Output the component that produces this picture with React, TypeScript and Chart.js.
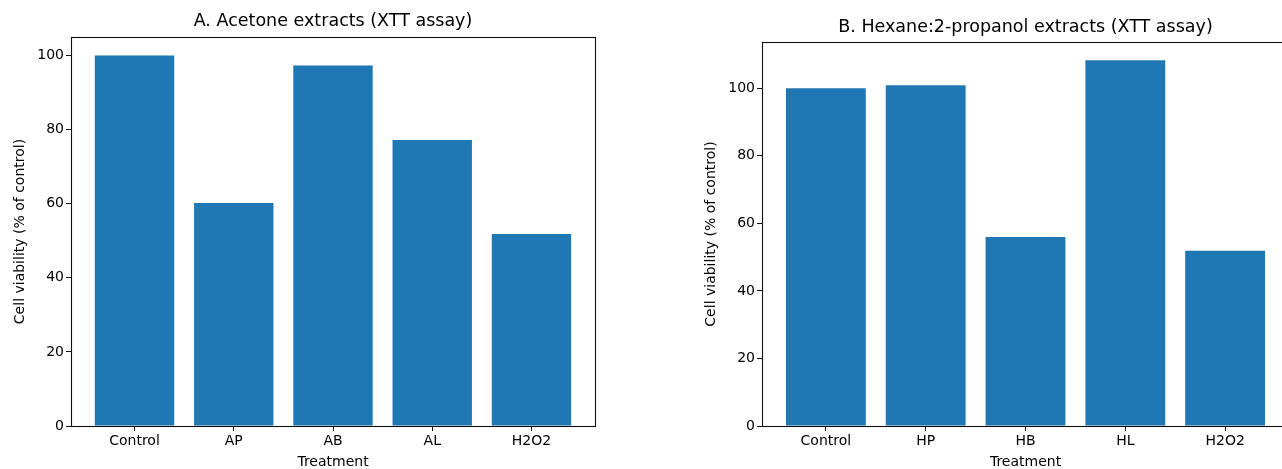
import React, { useEffect, useRef } from "react";
import { Chart, registerables } from "chart.js";

Chart.register(...registerables);

const titleA = "A. Acetone extracts (XTT assay)";
const categoriesA = ["Control", "AP", "AB", "AL", "H2O2"];
const viabilityA = [100, 60.2, 97.3, 77.2, 51.8];

const titleB = "B. Hexane:2-propanol extracts (XTT assay)";
const categoriesB = ["Control", "HP", "HB", "HL", "H2O2"];
const viabilityB = [100, 100.9, 56.0, 108.3, 51.9];

const yTickValues = [0, 20, 40, 60, 80, 100];
const xAxisLabel = "Treatment";
const yAxisLabel = "Cell viability (% of control)";

const FONT = "'DejaVu Sans', sans-serif";
const BAR_COLOR = "#1f77b4";

const frame = {
  id: "frame",
  afterDatasetsDraw(chart: any) {
    const { ctx, chartArea } = chart;
    ctx.save();
    ctx.strokeStyle = "#111";
    ctx.lineWidth = 1.1;
    ctx.strokeRect(
      Math.round(chartArea.left) + 0.5,
      Math.round(chartArea.top) + 0.5,
      Math.round(chartArea.right - chartArea.left),
      Math.round(chartArea.bottom - chartArea.top)
    );
    ctx.restore();
  },
};

function makeConfig(
  title: string,
  cats: string[],
  vals: number[],
  padLeft: number,
  padRight: number,
  titleTop: number,
  titleBottom: number
): any {
  const n = cats.length;
  return {
    type: "bar",
    data: {
      datasets: [
        {
          data: vals.map((v, i) => ({ x: i, y: v })),
          backgroundColor: BAR_COLOR,
          borderWidth: 0,
          barPercentage: 1.0,
          categoryPercentage: 0.8,
        },
      ],
    },
    options: {
      animation: false,
      responsive: false,
      maintainAspectRatio: false,
      layout: { padding: { left: padLeft, right: padRight, top: 0, bottom: 9 } },
      plugins: {
        legend: { display: false },
        tooltip: { enabled: false },
        title: {
          display: true,
          text: title,
          fullSize: false,
          color: "#000",
          font: { family: FONT, size: 17.5, weight: "normal" },
          padding: { top: titleTop, bottom: titleBottom },
        },
      },
      scales: {
        x: {
          type: "linear",
          min: -0.64,
          max: n - 1 + 0.64,
          offset: false,
          border: { display: false },
          grid: {
            offset: false,
            drawOnChartArea: false,
            drawTicks: true,
            tickLength: 5,
            tickColor: "#111",
            lineWidth: 1,
          },
          afterBuildTicks: (s: any) => {
            s.ticks = cats.map((_, i) => ({ value: i }));
          },
          ticks: {
            autoSkip: false,
            maxRotation: 0,
            padding: 2,
            color: "#000",
            font: { family: FONT, size: 14 },
            callback: (v: number) =>
              Number.isInteger(v) && v >= 0 && v < n ? cats[v] : "",
          },
          title: {
            display: true,
            text: xAxisLabel,
            color: "#000",
            font: { family: FONT, size: 14 },
            padding: { top: 0, bottom: 0 },
          },
          afterFit: (s: any) => {
            s.height = 45;
          },
        },
        y: {
          min: 0,
          max: Math.max(...vals) * 1.05,
          border: { display: false },
          grid: {
            drawOnChartArea: false,
            drawTicks: true,
            tickLength: 5,
            tickColor: "#111",
            lineWidth: 1,
          },
          afterBuildTicks: (s: any) => {
            s.ticks = yTickValues.map((v) => ({ value: v }));
          },
          ticks: {
            padding: 2,
            color: "#000",
            font: { family: FONT, size: 14 },
            callback: (v: number) => String(v),
          },
          title: {
            display: true,
            text: yAxisLabel,
            color: "#000",
            font: { family: FONT, size: 14 },
            padding: { top: 12, bottom: 0 },
          },
          afterFit: (s: any) => {
            s.width = 71;
          },
        },
      },
    },
    plugins: [frame],
  };
}

export default function App() {
  const refA = useRef<HTMLCanvasElement>(null);
  const refB = useRef<HTMLCanvasElement>(null);

  useEffect(() => {
    Chart.defaults.font.family = FONT;
    Chart.defaults.color = "#000";
    const a = new Chart(
      refA.current!,
      makeConfig(titleA, categoriesA, viabilityA, 0, 45, 11, 5)
    );
    const b = new Chart(
      refB.current!,
      makeConfig(titleB, categoriesB, viabilityB, 51, 51, 17, 4)
    );
    return () => {
      a.destroy();
      b.destroy();
    };
  }, []);

  return (
    <div
      style={{
        position: "absolute",
        left: 0,
        top: 0,
        width: 1282,
        height: 469,
        overflow: "hidden",
        background: "#fff",
      }}
    >
      <canvas
        ref={refA}
        width={640}
        height={480}
        style={{ position: "absolute", left: 0, top: 0, width: 640, height: 480 }}
      />
      <canvas
        ref={refB}
        width={700}
        height={480}
        style={{ position: "absolute", left: 640, top: 0, width: 700, height: 480 }}
      />
    </div>
  );
}
